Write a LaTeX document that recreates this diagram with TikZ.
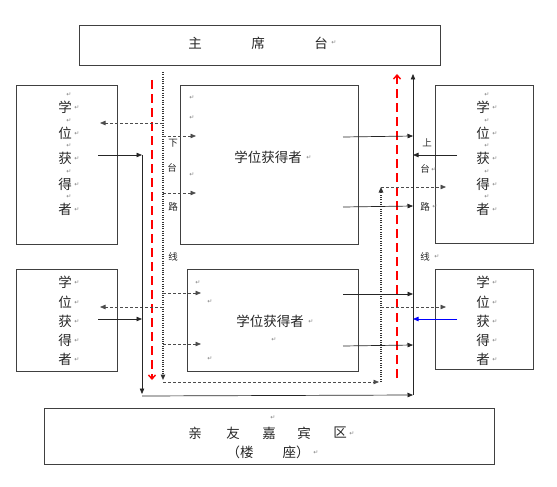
\documentclass[tikz,border=0pt]{standalone}
\usepackage{fontspec}
\newfontfamily\cjk{Noto Sans CJK SC}
\newfontfamily\symf{DejaVu Sans}
\usetikzlibrary{arrows.meta}
\tikzset{
  box/.style={draw=black!75, line width=0.8pt, inner sep=0pt},
  tx/.style={font=\cjk\fontsize{13.5}{13.5}\selectfont, inner sep=0pt, text=black!85},
  sx/.style={font=\cjk\fontsize{9.5}{9.5}\selectfont, inner sep=0pt, text=black!85},
  mk/.style={inner sep=0pt, font=\symf\fontsize{6}{6}\selectfont, text=gray},
  arr/.style={-{Triangle[length=5.5pt,width=4.5pt]}, line width=0.7pt, draw=black!85},
  darr/.style={arr, dash pattern=on 3pt off 2pt, draw=black!70},
  dotl/.style={line width=1.2pt, dash pattern=on 1pt off 1.3pt, draw=black!80},
  reddash/.style={draw=red, line width=1.4pt, dash pattern=on 9pt off 5pt, -{Straight Barb[length=4pt,width=7pt]}},
}
\begin{document}
\begin{tikzpicture}[x=1pt,y=-1pt]
\useasboundingbox (0,0) rectangle (557,487);
% boxes
\node[box, minimum width=361pt, minimum height=40pt] (top) at (259.5,45) {};
\node[box, minimum width=101pt, minimum height=159pt] (LT) at (66.5,164.5) {};
\node[box, minimum width=178pt, minimum height=159pt] (MT) at (269,164.5) {};
\node[box, minimum width=98pt, minimum height=158pt] (RT) at (484,164) {};
\node[box, minimum width=101pt, minimum height=102pt] (LB) at (66.5,320) {};
\node[box, minimum width=171pt, minimum height=102pt] (MB) at (272.5,320) {};
\node[box, minimum width=98pt, minimum height=100pt] (RB) at (484,319) {};
\node[box, minimum width=450pt, minimum height=56pt] (bot) at (269,436) {};
% top text
\node[tx] (t1) at (195,43) {主};
\node[tx] (t2) at (258,43) {席};
\node[tx] (t3) at (321,43) {台};
\node[mk] (t4) at (334,43) {↵};
% column texts
\foreach \c/\y/\n in {学/107/1,位/133/2,获/158/3,得/184/4,者/209/5}{
  \node[tx] (lt\n) at (65,\y) {\c};
  \node[mk] (ltm\n) at (77,\y+1) {↵};
  \node[mk] (ltp\n) at (69,\y-12) {↵};
  \node[tx] (rt\n) at (483,\y) {\c};
  \node[mk] (rtm\n) at (495,\y+1) {↵};
  \node[mk] (rtp\n) at (487,\y-12) {↵};
}
\foreach \c/\y/\n in {学/282/1,位/302/2,获/321/3,得/340/4,者/359/5}{
  \node[tx] (lb\n) at (65,\y) {\c};
  \node[mk] (lbm\n) at (77,\y+1) {↵};
  \node[tx] (rb\n) at (483,\y) {\c};
  \node[mk] (rbm\n) at (495,\y+1) {↵};
}
% middle texts
\node[tx] (mt) at (268,157) {学位获得者};
\node[mk] (mtm) at (309,158) {↵};
\node[mk] (mtm1) at (192,98) {↵};
\node[mk] (mtm2) at (192,118) {↵};
\node[mk] (mtm3) at (192,175) {↵};
\node[tx] (mb) at (270,321) {学位获得者};
\node[mk] (mbm) at (311,322) {↵};
\node[mk] (mbm1) at (198,283) {↵};
\node[mk] (mbm2) at (210,302) {↵};
\node[mk] (mbm3) at (274,340) {↵};
\node[mk] (mbm4) at (210,359) {↵};
% side labels
\node[sx] (x1) at (173,143) {下};
\node[sx] (x2) at (172,168) {台};
\node[sx] (x3) at (173,207) {路};
\node[sx] (x4) at (173,257) {线};
\node[sx] (s1) at (427,143) {上};
\node[sx] (s2) at (425,169) {台};
\node[mk] (s2m) at (434,170) {↵};
\node[sx] (s3) at (425,207) {路};
\node[mk] (s3m) at (435,207) {↵};
\node[sx] (s4) at (425,257) {线};
\node[mk] (s4m) at (437,257) {↵};
% bottom text
\node[mk] (bm0) at (273,418) {↵};
\node[tx] (b1) at (195,433) {亲};
\node[tx] (b2) at (233,433) {友};
\node[tx] (b3) at (269,433) {嘉};
\node[tx] (b4) at (304,433) {宾};
\node[tx] (b5) at (340,433) {区};
\node[mk] (bm1) at (352,434) {↵};
\node[tx] (b6) at (240,452) {（楼};
\node[tx] (b7) at (296,452) {座）};
\node[mk] (bm2) at (316,453) {↵};
% coordinates
\coordinate (rl1) at (152,80);  \coordinate (rl2) at (152,380);
\coordinate (rr1) at (397,378); \coordinate (rr2) at (397,74);
\coordinate (d1) at (163,72);   \coordinate (d2) at (163,380);
\coordinate (d3) at (163,382);  \coordinate (d4) at (379,382);
\coordinate (d5) at (381,382);  \coordinate (d6) at (381,187);
\coordinate (d7) at (446,187);  \coordinate (d8) at (381,307);
\coordinate (d9) at (446,307);
\coordinate (a1) at (163,123);  \coordinate (a2) at (100,123);
\coordinate (a3) at (163,307);  \coordinate (a4) at (100,307);
\coordinate (a5) at (163,136);  \coordinate (a6) at (196,136);
\coordinate (a7) at (163,193);  \coordinate (a8) at (196,193);
\coordinate (a9) at (163,293);  \coordinate (a10) at (201,293);
\coordinate (a11) at (163,344); \coordinate (a12) at (201,344);
\coordinate (p1) at (98,155);   \coordinate (p2) at (142,155);
\coordinate (p3) at (142,394);  \coordinate (p4) at (142,396);
\coordinate (p5) at (413,395);  \coordinate (p6) at (413,74);
\coordinate (p7) at (98,319);   \coordinate (p8) at (142,319);
\coordinate (q1) at (343,137);  \coordinate (q2) at (413,136);
\coordinate (q3) at (343,207);  \coordinate (q4) at (413,206);
\coordinate (q5) at (343,294);  \coordinate (q6) at (413,294);
\coordinate (q7) at (343,346);  \coordinate (q8) at (413,345);
\coordinate (r1) at (457,155);  \coordinate (r2) at (413,155);
\coordinate (r3) at (457,319);  \coordinate (r4) at (413,319);
% red dashed
\draw[reddash] (rl1) -- (rl2);
\draw[reddash] (rr1) -- (rr2);
% dotted / dashed route
\draw[dotl, -{Triangle[length=5.5pt,width=4.5pt]}] (d1) -- (d2);
\draw[darr] (d3) -- (d4);
\draw[dotl, -{Triangle[length=5.5pt,width=4.5pt]}] (d5) -- (d6);
\draw[darr] (d6) -- (d7);
\draw[darr] (d8) -- (d9);
\draw[darr] (a1) -- (a2);
\draw[darr] (a3) -- (a4);
\draw[darr] (a5) -- (a6);
\draw[darr] (a7) -- (a8);
\draw[darr] (a9) -- (a10);
\draw[darr] (a11) -- (a12);
% solid
\draw[arr] (p1) -- (p2);
\draw[arr] (p2) -- (p3);
\draw[arr] (p4) -- (p5);
\draw[arr] (p5) -- (p6);
\draw[arr] (p7) -- (p8);
\draw[arr] (q1) -- (q2);
\draw[arr] (q3) -- (q4);
\draw[arr] (q5) -- (q6);
\draw[arr] (q7) -- (q8);
\draw[arr] (r1) -- (r2);
\draw[arr, draw=blue, fill=blue] (r3) -- (r4);
\end{tikzpicture}
\end{document}
